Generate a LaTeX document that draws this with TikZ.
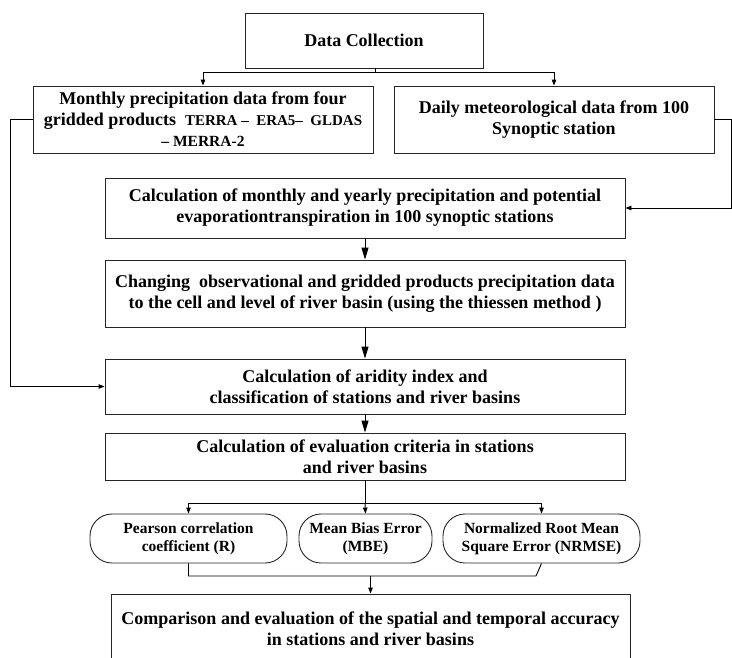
\documentclass[tikz,border=0pt]{standalone}
\usepackage{fontspec}
\setmainfont{Liberation Serif}
\usetikzlibrary{arrows.meta,calc}

\begin{document}
\begin{tikzpicture}[x=1pt,y=-1pt,
    box/.style={draw=black!85,line width=0.9pt,align=center,inner sep=2pt,
        font=\fontsize{18}{21}\selectfont\bfseries},
    pill/.style={box,rounded corners=22pt,minimum height=49pt,
        font=\fontsize{15.5}{18}\selectfont\bfseries},
    line/.style={line width=0.9pt},
    sarrow/.style={line,-{Triangle[length=6pt,width=4.5pt]}},
    barrow/.style={line,-{Triangle[length=12pt,width=7pt]}}
]

\useasboundingbox (0,0) rectangle (732,657);
\clip (0,0) rectangle (732,657);

% Data sources
\node[box,minimum width=238pt,minimum height=55pt] (dc) at (364,40.5) {Data Collection};
\node[box,minimum width=340pt,minimum height=67pt] (mon) at (203,119.5)
    {Monthly precipitation data from four\\
     gridded products \ \fontsize{15}{21}\selectfont TERRA -- \ ERA5-- \ GLDAS\\
     \fontsize{15.5}{21}\selectfont -- MERRA-2};
\node[box,minimum width=320pt,minimum height=67pt] (day) at (554,119.5)
    {Daily meteorological data from 100\\ Synoptic station};

% Processing steps
\node[box,minimum width=520pt,minimum height=60pt] (calc) at (365,208)
    {Calculation of monthly and yearly precipitation and potential\\
     evaporationtranspiration in 100 synoptic stations};
\node[box,minimum width=520pt,minimum height=67pt] (chg) at (365,293.5)
    {Changing\ \ observational and gridded products precipitation data\\
     to the cell and level of river basin (using the thiessen method )};
\node[box,minimum width=520pt,minimum height=55pt] (ari) at (365,386.5)
    {Calculation of aridity index and\\ classification of stations and river basins};
\node[box,minimum width=520pt,minimum height=47pt] (eva) at (365,456.5)
    {Calculation of evaluation criteria in stations\\ and river basins};

% Criteria
\node[pill,minimum width=197pt] (pr) at (188.5,538.5) {Pearson correlation\\ coefficient (R)};
\node[pill,minimum width=133pt] (mbe) at (365.5,538.5) {Mean Bias Error\\ (MBE)};
\node[pill,minimum width=197pt] (nrm) at (541.5,538.5) {Normalized Root Mean\\ Square Error (NRMSE)};

% Result
\node[box,minimum width=519pt,minimum height=69pt] (cmp) at (370.5,628.5)
    {Comparison and evaluation of the spatial and temporal accuracy\\ in stations and river basins};

% Connectors
\coordinate (s1) at (375,72);
\draw[line] (dc.south -| s1) -- (s1);
\draw[sarrow] (s1) -| (mon.north);
\draw[sarrow] (s1) -| (day.north);

\coordinate (lft) at (10,0);
\coordinate (rgt) at (731,0);
\draw[sarrow] (mon.west) -- (mon.west -| lft) |- (ari.west);
\draw[sarrow] (day.east) -- (day.east -| rgt) |- (calc.east);

\draw[barrow] (calc) -- (chg);
\draw[barrow] (chg) -- (ari);
\draw[barrow] (ari) -- (eva);

\coordinate (s2) at (365,503);
\draw[line] (eva.south) -- (s2);
\draw[sarrow] (s2) -| (pr.north);
\draw[sarrow] (s2) -| (nrm.north);
\draw[sarrow] (s2) -- (mbe.north);

\coordinate (jn) at (536,576);
\draw[line] (pr.south) |- (jn) -- (nrm.south);
\draw[sarrow] (cmp.north |- jn) -- (cmp.north);

\end{tikzpicture}
\end{document}
